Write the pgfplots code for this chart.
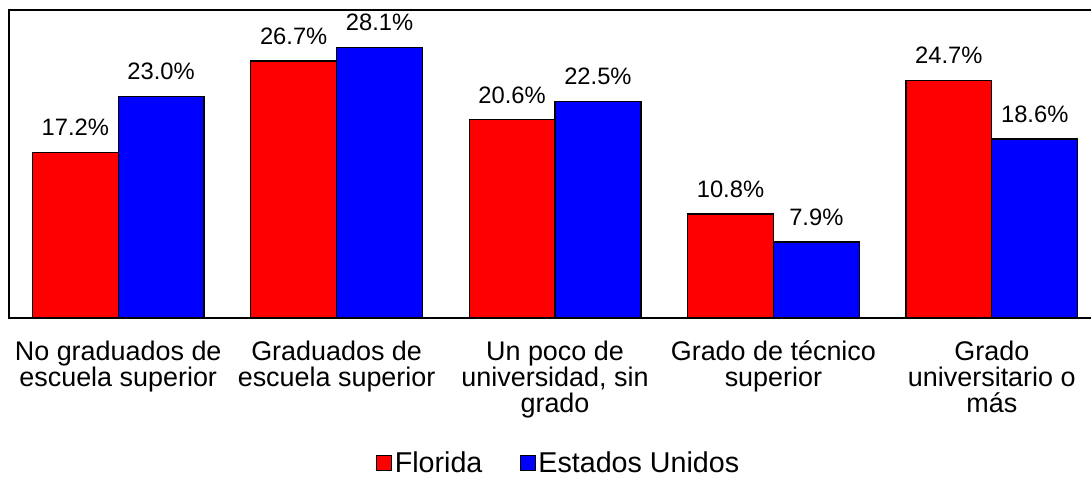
\documentclass[border=0pt]{standalone}
\usepackage{pgfplots}
\pgfplotsset{compat=1.18}
\usepackage{fontspec}
\setmainfont{Liberation Sans}

\pgfplotstableread{
x fl us
0 17.2 23.0
1 26.7 28.1
2 20.6 22.5
3 10.8 7.9
4 24.7 18.6
}\edu

\begin{document}
\begin{tikzpicture}
\begin{axis}[
  name=ax,
  width=819pt, height=231pt, scale only axis,
  ybar=0pt, bar width=0.393,
  xmin=-0.5, xmax=4.5, ymin=0, ymax=32,
  xtick={0,1,2,3,4},
  xticklabels={{No graduados de\\escuela superior},
                {Graduados de\\escuela superior},
                {Un poco de\\universidad, sin\\grado},
                {Grado de técnico\\superior},
                {Grado\\universitario o\\más}},
  x tick label style={align=center, font=\fontsize{20.2}{19.5}\selectfont, yshift=-9.5pt},
  major x tick style={draw=none}, ytick=\empty,
  axis line style={line width=1.5pt},
  /pgf/number format/assume math mode=true,
  nodes near coords={\pgfmathprintnumber[fixed,fixed zerofill,precision=1]{\pgfplotspointmeta}\%},
  every node near coord/.append style={font=\fontsize{17.8}{20}\selectfont, text=black, yshift=8.5pt},
  clip=false,
  legend style={at={(0.5,0)}, anchor=center, xshift=3pt, yshift=-108.5pt, draw=none,
    inner sep=0pt, font=\fontsize{21.5}{23}\selectfont, legend columns=2,
    /tikz/every even column/.append style={column sep=26pt},
    /tikz/every odd column/.append style={inner xsep=1pt}},
  legend image code/.code={\draw[#1, line width=0.8pt] (0pt,-5.6pt) rectangle (11.2pt,5.6pt);},
]
\addplot[fill=red, draw=black, line width=1pt] table[x=x, y=fl] {\edu};
\addplot[fill=blue, draw=black, line width=1pt] table[x=x, y=us] {\edu};
\legend{Florida, Estados Unidos}
\end{axis}
\pgfresetboundingbox
\path[use as bounding box] ([shift={(-6.75pt,-120.75pt)}]ax.south west) rectangle ++(818.25pt,359.25pt);
\end{tikzpicture}
\end{document}
